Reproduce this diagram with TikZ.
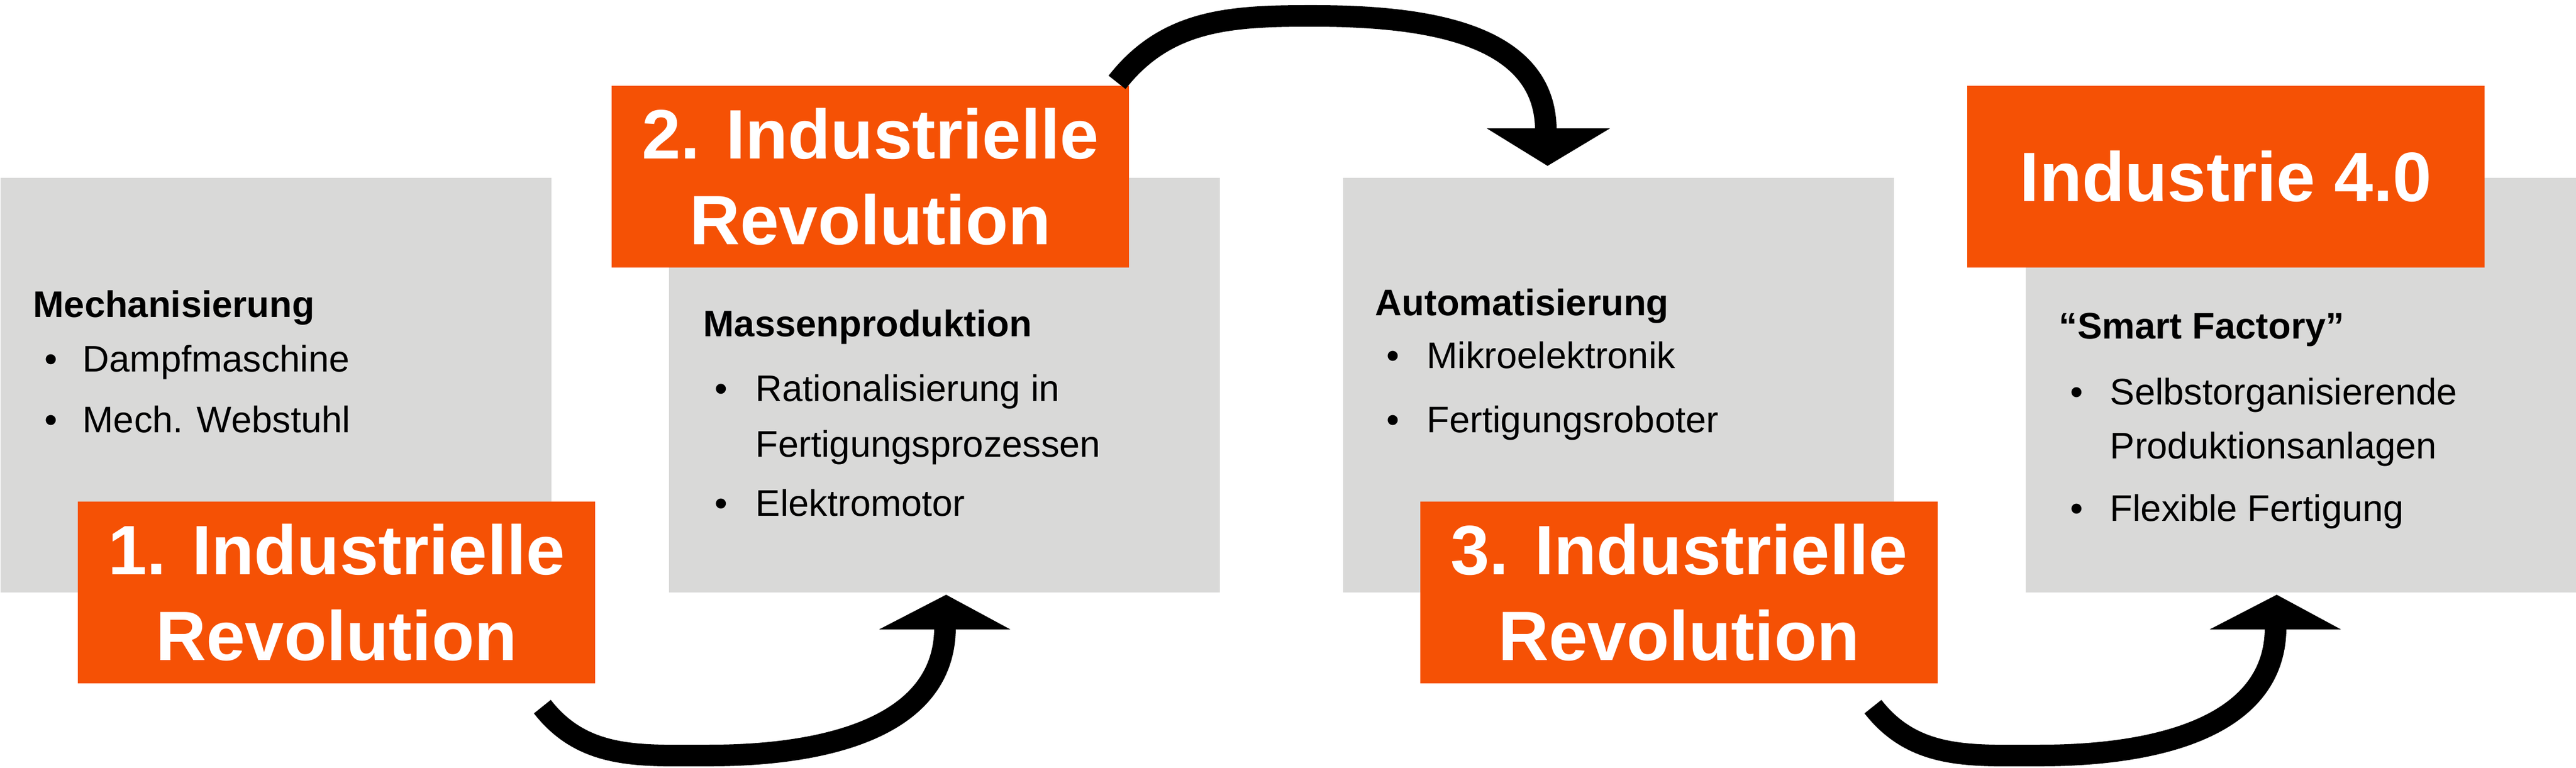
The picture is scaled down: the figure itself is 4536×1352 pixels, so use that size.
\documentclass[tikz,border=0pt]{standalone}
\usepackage{fontspec}
\setmainfont{Liberation Sans}
\definecolor{og}{HTML}{F55105}
\definecolor{gr}{HTML}{D9D9D8}
\begin{document}
\begin{tikzpicture}[x=0.01cm,y=-0.01cm,
  graybox/.style={fill=gr,draw=none,anchor=north west,inner sep=0pt,minimum width=9.7cm,minimum height=7.3cm},
  obox/.style={fill=og,draw=none,inner sep=0pt,minimum width=9.11cm,minimum height=3.2cm,text=white,font=\bfseries\fontsize{35}{43}\selectfont,align=center},
  head/.style={anchor=base west,inner sep=0pt,font=\bfseries\fontsize{18.5}{22}\selectfont},
  txt/.style={anchor=base west,inner sep=0pt,font=\fontsize{18.5}{22}\selectfont},
  shaft/.style={line width=0.38cm},
  tip/.style={fill=black,draw=none}]
\useasboundingbox (0,0) rectangle (4536,1352);
\node[graybox] (g1) at (0,312) {};
\node[graybox] (g2) at (1177,312) {};
\node[graybox] (g3) at (2364,312) {};
\node[graybox] (g4) at (3566,312) {};
\node[obox,anchor=north west] (o1) at (136,882) {1. Industrielle\\Revolution};
\node[obox,anchor=north west] (o2) at (1076,150) {2. Industrielle\\Revolution};
\node[obox,anchor=north west] (o3) at (2500,882) {3. Industrielle\\Revolution};
\node[obox,anchor=north west] (o4) at (3463,150) {Industrie 4.0};
% box 1
\node[head] (h1) at (58,558) {Mechanisierung};
\node[txt] (b11) at (78,654) {•};\node[txt] (t11) at (145,654) {Dampfmaschine};
\node[txt] (b12) at (78,761) {•};\node[txt] (t12) at (145,761) {Mech. Webstuhl};
% box 2
\node[head] (h2) at (1238,593) {Massenproduktion};
\node[txt] (b21) at (1258,706) {•};\node[txt] (t21) at (1330,706) {Rationalisierung in};
\node[txt] (t22) at (1330,804) {Fertigungsprozessen};
\node[txt] (b23) at (1258,908) {•};\node[txt] (t23) at (1330,908) {Elektromotor};
% box 3
\node[head] (h3) at (2421,555) {Automatisierung};
\node[txt] (b31) at (2441,648) {•};\node[txt] (t31) at (2512,648) {Mikroelektronik};
\node[txt] (b32) at (2441,761) {•};\node[txt] (t32) at (2512,761) {Fertigungsroboter};
% box 4
\node[head] (h4) at (3625,596) {“Smart Factory”};
\node[txt] (b41) at (3645,712) {•};\node[txt] (t41) at (3715,712) {Selbstorganisierende};
\node[txt] (t42) at (3715,807) {Produktionsanlagen};
\node[txt] (b43) at (3645,917) {•};\node[txt] (t43) at (3715,917) {Flexible Fertigung};
% arrows
\coordinate (a1s) at (955,1244); \coordinate (a1m) at (1250,1330); \coordinate (a1e) at (1664,1104);
\draw[shaft] (a1s) to[out=-52,in=180] (a1m) to[out=0,in=-90] (a1e);
\fill[tip] (1548,1108) -- (1779,1108) -- (1666,1047) -- cycle;
\coordinate (a2s) at (1967,145); \coordinate (a2m) at (2310,28); \coordinate (a2e) at (2722,230);
\draw[shaft] (a2s) to[out=52,in=180] (a2m) to[out=0,in=90] (a2e);
\fill[tip] (2618,226) -- (2835,226) -- (2725,292) -- cycle;
\coordinate (a3s) at (3298,1244); \coordinate (a3m) at (3593,1330); \coordinate (a3e) at (4007,1104);
\draw[shaft] (a3s) to[out=-52,in=180] (a3m) to[out=0,in=-90] (a3e);
\fill[tip] (3891,1108) -- (4122,1108) -- (4009,1047) -- cycle;
\end{tikzpicture}
\end{document}
